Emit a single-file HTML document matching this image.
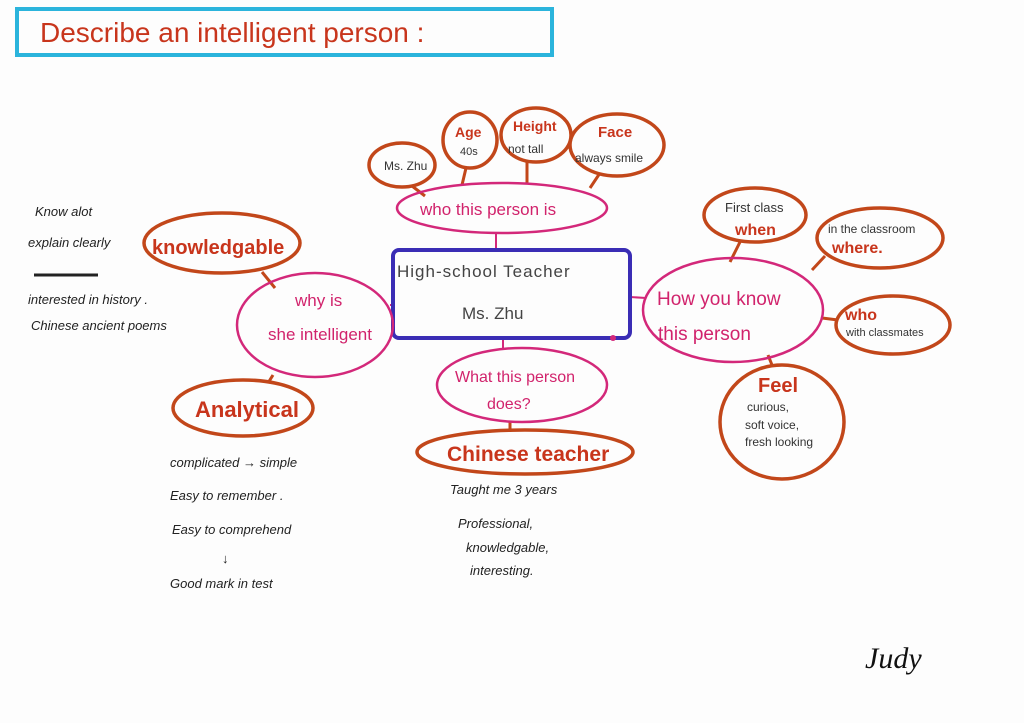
<!DOCTYPE html>
<html><head><meta charset="utf-8"><style>
body{margin:0;background:#fff}
svg{display:block}
text{font-family:"Liberation Sans",sans-serif}
.o{fill:none;stroke:#c2471a;stroke-width:3.5}
.m{fill:none;stroke:#d3287a;stroke-width:2.5}
.ot{fill:#c8351c;font-weight:bold}
.mt{fill:#d1236c}
.k{fill:#222;font-size:13px;font-style:italic}
</style></head><body>
<svg width="1024" height="723" viewBox="0 0 1024 723">
<rect width="1024" height="723" fill="#fdfdfd"/>
<rect x="17" y="9" width="535" height="46" fill="none" stroke="#2bb4dc" stroke-width="4"/>
<text x="40" y="42" font-size="28" class="ot" style="font-weight:normal">Describe an intelligent person :</text>

<g stroke="#c2471a" stroke-width="3">
<line x1="412" y1="186" x2="425" y2="196"/><line x1="466" y1="168" x2="462" y2="185"/>
<line x1="527" y1="161" x2="527" y2="184"/><line x1="600" y1="173" x2="590" y2="188"/>
<line x1="262" y1="272" x2="275" y2="288"/><line x1="273" y1="375" x2="268" y2="383"/>
<line x1="510" y1="422" x2="510" y2="432"/>
<line x1="730" y1="262" x2="740" y2="242"/><line x1="812" y1="270" x2="825" y2="256"/>
<line x1="822" y1="318" x2="838" y2="320"/><line x1="768" y1="355" x2="772" y2="365"/>
</g>
<g stroke="#d3287a" stroke-width="2"><line x1="390" y1="305" x2="394" y2="305"/><line x1="630" y1="297" x2="646" y2="298"/><line x1="496" y1="233" x2="496" y2="248"/><line x1="503" y1="338" x2="503" y2="350"/></g>

<ellipse class="o" cx="402" cy="165" rx="33" ry="22"/>
<text x="384" y="170" font-size="12" fill="#333">Ms. Zhu</text>
<ellipse class="o" cx="470" cy="140" rx="27" ry="28"/>
<text x="455" y="137" font-size="14" class="ot">Age</text><text x="460" y="155" font-size="11" fill="#333">40s</text>
<ellipse class="o" cx="536" cy="135" rx="35" ry="27"/>
<text x="513" y="131" font-size="14" class="ot">Height</text><text x="508" y="153" font-size="12" fill="#333">not tall</text>
<ellipse class="o" cx="617" cy="145" rx="47" ry="31"/>
<text x="598" y="137" font-size="15" class="ot">Face</text><text x="575" y="162" font-size="12" fill="#333">always smile</text>

<ellipse class="m" cx="502" cy="208" rx="105" ry="25"/>
<text x="420" y="215" font-size="17" class="mt">who this person is</text>

<rect x="393" y="250" width="237" height="88" fill="none" stroke="#3a2db5" stroke-width="4" rx="6"/>
<text x="397" y="277" font-size="17" fill="#444" letter-spacing="1">High-school Teacher</text>
<text x="462" y="319" font-size="17" fill="#444">Ms. Zhu</text>
<circle cx="613" cy="338" r="3" fill="#d3287a"/>

<ellipse class="o" cx="222" cy="243" rx="78" ry="30"/>
<text x="152" y="254" font-size="20" class="ot">knowledgable</text>
<ellipse class="m" cx="315" cy="325" rx="78" ry="52"/>
<text x="295" y="306" font-size="17" class="mt">why is</text>
<text x="268" y="340" font-size="17" class="mt">she intelligent</text>
<ellipse class="o" cx="243" cy="408" rx="70" ry="28"/>
<text x="195" y="417" font-size="22" class="ot">Analytical</text>

<text x="35" y="216" class="k">Know alot</text>
<text x="28" y="247" class="k">explain clearly</text>
<line x1="34" y1="275" x2="98" y2="275" stroke="#222" stroke-width="3"/>
<text x="28" y="304" class="k">interested in history .</text>
<text x="31" y="330" class="k">Chinese ancient poems</text>

<text x="170" y="467" class="k">complicated → simple</text>
<text x="170" y="500" class="k">Easy to remember .</text>
<text x="172" y="534" class="k">Easy to comprehend</text>
<text x="222" y="563" class="k">↓</text>
<text x="170" y="588" class="k">Good mark in test</text>

<ellipse class="m" cx="522" cy="385" rx="85" ry="37"/>
<text x="455" y="382" font-size="16" class="mt">What this person</text>
<text x="487" y="409" font-size="16" class="mt">does?</text>
<ellipse class="o" cx="525" cy="452" rx="108" ry="22"/>
<text x="447" y="461" font-size="21" class="ot">Chinese teacher</text>
<text x="450" y="494" class="k">Taught me 3 years</text>
<text x="458" y="528" class="k">Professional,</text>
<text x="466" y="552" class="k">knowledgable,</text>
<text x="470" y="575" class="k">interesting.</text>

<ellipse class="m" cx="733" cy="310" rx="90" ry="52"/>
<text x="657" y="305" font-size="19" class="mt">How you know</text>
<text x="658" y="340" font-size="19" class="mt">this person</text>
<ellipse class="o" cx="755" cy="215" rx="51" ry="27"/>
<text x="725" y="212" font-size="13" fill="#333">First class</text>
<text x="735" y="235" font-size="16" class="ot">when</text>
<ellipse class="o" cx="880" cy="238" rx="63" ry="30"/>
<text x="828" y="233" font-size="12" fill="#333">in the classroom</text>
<text x="832" y="253" font-size="16" class="ot">where.</text>
<ellipse class="o" cx="893" cy="325" rx="57" ry="29"/>
<text x="845" y="320" font-size="16" class="ot">who</text>
<text x="846" y="336" font-size="11" fill="#333">with classmates</text>
<ellipse class="o" cx="782" cy="422" rx="62" ry="57"/>
<text x="758" y="392" font-size="20" class="ot">Feel</text>
<text x="747" y="411" font-size="12" fill="#333">curious,</text>
<text x="745" y="429" font-size="12" fill="#333">soft voice,</text>
<text x="745" y="446" font-size="12" fill="#333">fresh looking</text>

<text x="865" y="668" font-size="30" fill="#111" font-style="italic" style="font-family:'Liberation Serif',serif">Judy</text>
</svg>
</body></html>
